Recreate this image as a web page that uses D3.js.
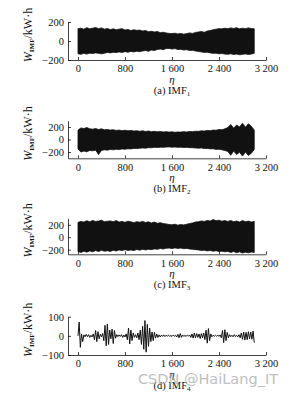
<!DOCTYPE html>
<html>
<head>
<meta charset="utf-8">
<script src="https://cdn.jsdelivr.net/npm/d3@7"></script>
<style>
  html, body { margin: 0; padding: 0; background: #fff; }
  svg { display: block; font-family: "Liberation Serif", "DejaVu Serif", serif; }
</style>
</head>
<body>
<svg id="chart" width="291" height="398"></svg>
<script>
// η sample grids
const etaEnv = d3.range(0, 3001, 50);
const etaImf4 = d3.range(0, 3001, 20);
const xTicks = [0, 800, 1600, 2400, 3200];

// IMF1..IMF3 are drawn as their envelope (dense oscillation band)
const imf1Upper = [130,135,125,140,128,135,142,130,138,125,132,
  120,128,118,125,130,115,122,110,118,112,
  115,105,110,98,102,95,100,88,92,85,
  80,78,82,75,80,72,78,85,80,90,
  95,100,92,105,110,118,125,130,128,135,
  130,138,132,140,128,135,130,138,132,128];
const imf1Lower = [-135,-140,-130,-138,-128,-132,-125,-130,-135,-128,-120,
  -125,-118,-122,-115,-120,-112,-118,-110,-115,-108,
  -112,-105,-100,-108,-95,-100,-90,-85,-92,-80,
  -78,-85,-80,-90,-88,-95,-92,-100,-98,-105,
  -110,-115,-120,-118,-125,-130,-128,-135,-132,-138,
  -140,-135,-142,-138,-145,-140,-136,-142,-138,-130];

const imf2Upper = [150,185,175,190,170,165,175,160,170,155,160,
  150,155,145,150,140,148,138,145,135,140,
  132,138,128,135,125,130,122,128,120,125,
  118,122,115,120,118,125,120,128,125,132,
  130,138,135,145,140,150,148,160,155,170,
  190,240,180,230,200,260,195,250,210,150];
const imf2Lower = [-150,-200,-185,-195,-175,-180,-170,-240,-175,-165,-170,
  -160,-165,-155,-160,-150,-155,-148,-150,-142,-145,
  -140,-135,-138,-130,-132,-125,-128,-122,-125,-120,
  -118,-122,-120,-125,-122,-128,-125,-130,-132,-135,
  -138,-135,-145,-142,-150,-148,-158,-155,-165,-175,
  -190,-250,-185,-240,-205,-265,-200,-255,-220,-160];

const imf3Upper = [240,255,245,265,250,270,255,260,275,250,258,
  262,250,268,245,255,240,258,248,235,250,
  242,255,238,248,230,245,225,235,220,215,
  205,200,210,195,205,198,210,220,230,245,
  250,262,255,270,260,285,265,275,258,268,
  255,270,250,262,245,268,250,260,245,255];
const imf3Lower = [-230,-245,-225,-240,-220,-235,-215,-230,-210,-225,-218,
  -228,-210,-222,-205,-215,-200,-212,-205,-215,-198,
  -208,-195,-205,-192,-200,-188,-195,-182,-190,-178,
  -175,-182,-172,-180,-175,-185,-180,-190,-195,-200,
  -205,-212,-208,-220,-215,-225,-218,-230,-225,-235,
  -228,-245,-230,-250,-235,-255,-240,-250,-238,-245];

// IMF4 is slow enough to trace as a line
const imf4 = [0,72,-60,10,-30,5,
  -5,8,-4,6,-8,3,-6,10,-20,
  28,-30,22,-15,8,-5,
  12,-25,55,-52,62,-45,30,-15,
  35,-40,28,-12,6,-4,5,
  -3,6,-8,4,-6,10,-20,
  40,-42,30,-25,15,-8,
  6,-10,15,-20,30,-45,50,
  -70,80,-85,60,-55,40,-30,20,
  -25,18,-12,10,-8,5,-6,
  4,-3,5,-4,3,-2,4,-3,2,-3,
  4,-2,3,-6,8,-10,12,-8,5,-3,
  2,-3,4,-2,5,-8,10,-12,15,-10,
  12,-8,10,-14,12,-10,15,-20,30,-38,
  38,-25,10,-5,3,-2,3,-2,4,-3,
  5,-10,28,-35,32,-25,18,-10,6,-4,
  3,-5,6,-4,3,-5,6,-10,15,-18,
  20,-22,18,-20,22,-15,20,-18,25,-35];

const panels = [
  { top: 22,    h: 38, yDomain: [-200, 200], yTicks: [200, 0, -200], upper: imf1Upper, lower: imf1Lower, tag: "(a)", sub: "1" },
  { top: 120.7, h: 37.6, yDomain: [-300, 300], yTicks: [200, 0, -200], upper: imf2Upper, lower: imf2Lower, tag: "(b)", sub: "2" },
  { top: 218.3, h: 36, yDomain: [-275, 305], yTicks: [200, 0, -200], upper: imf3Upper, lower: imf3Lower, tag: "(c)", sub: "3" },
  { top: 316.7, h: 38.3, yDomain: [-100, 100], yTicks: [100, 0, -100], line: imf4, tag: "(d)", sub: "4" }
];

const svg = d3.select('#chart');
const x = d3.scaleLinear().domain([-170, 3200]).range([68, 266]);

const fmtX = d => d >= 1000 ? String(d).replace(/(\d)(\d{3})$/, '$1 $2') : String(d);
const fmtY = d => d < 0 ? '\u2212' + Math.abs(d) : String(d);

panels.forEach(p => {
  const y = d3.scaleLinear().domain(p.yDomain).range([p.top + p.h, p.top]);
  const g = svg.append('g');

  if (p.line) {
    g.append('path')
      .datum(p.line)
      .attr('fill', 'none')
      .attr('stroke', '#111')
      .attr('stroke-width', 1)
      .attr('d', d3.line().x((d, i) => x(etaImf4[i])).y(d => y(d)));
  } else {
    g.append('path')
      .datum(p.upper)
      .attr('fill', '#111')
      .attr('stroke', '#111')
      .attr('stroke-width', 0.8)
      .attr('d', d3.area()
        .x((d, i) => x(etaEnv[i]))
        .y0((d, i) => y(p.lower[i]))
        .y1(d => y(d)));
  }

  // axes
  const ax = g.append('g')
    .attr('transform', `translate(0,${p.top + p.h})`)
    .call(d3.axisBottom(x).tickValues(xTicks).tickSizeInner(-3).tickSizeOuter(0).tickPadding(5).tickFormat(fmtX));
  const ay = g.append('g')
    .attr('transform', `translate(68,0)`)
    .call(d3.axisLeft(y).tickValues(p.yTicks).tickSizeInner(-3).tickSizeOuter(0).tickPadding(4).tickFormat(fmtY));
  [ax, ay].forEach(a => {
    a.selectAll('path, line').attr('stroke', '#111').attr('stroke-width', 0.8);
    a.selectAll('text').attr('fill', '#111').attr('font-size', 10.5)
      .attr('font-family', '"Liberation Serif", serif');
  });

  const base = p.top + p.h;
  svg.append('text')
    .attr('x', x(1600)).attr('y', base + 23)
    .attr('text-anchor', 'middle').attr('font-size', 11).attr('font-style', 'italic')
    .attr('fill', '#111').text('\u03b7');

  const cap = svg.append('text')
    .attr('x', x(1600)).attr('y', base + 34)
    .attr('text-anchor', 'middle').attr('font-size', 10.5).attr('fill', '#111');
  cap.append('tspan').text(p.tag + ' IMF');
  cap.append('tspan').attr('font-size', 7).attr('dy', 2).text(p.sub);

  // y label
  const ly = p.top + p.h / 2 - 6;
  const lab = svg.append('text')
    .attr('transform', `translate(32,${ly}) rotate(-90)`)
    .attr('text-anchor', 'middle').attr('font-size', 12).attr('fill', '#111');
  lab.append('tspan').attr('font-style', 'italic').text('W');
  lab.append('tspan').attr('font-size', 7).attr('font-weight', 'bold').attr('dy', 2).text('IMF');
  lab.append('tspan').attr('dy', -2).text('/kW\u00b7h');
});

// watermark from the source image
svg.append('text')
  .attr('x', 138).attr('y', 384)
  .attr('font-family', '"DejaVu Sans", sans-serif')
  .attr('font-size', 14.5).attr('fill', '#aaa').attr('opacity', 0.75)
  .text('CSDN @HaiLang_IT');
</script>
</body>
</html>
